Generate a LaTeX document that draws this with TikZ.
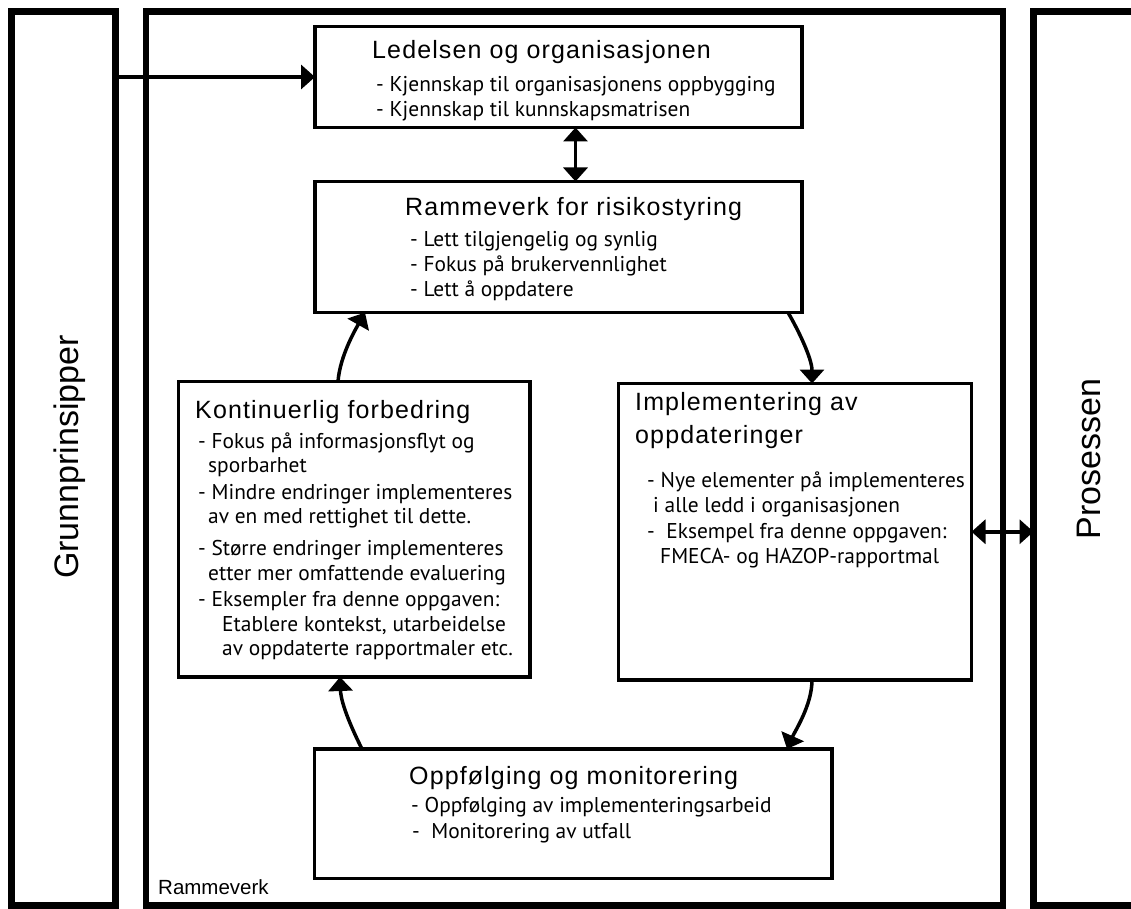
\documentclass[tikz,border=0pt]{standalone}
\usepackage{fontspec}
\setmainfont{Liberation Sans}
\newfontfamily\headfont[LetterSpace=4.5]{Liberation Sans}
\newfontfamily\bodyfont{PT Sans}
\usetikzlibrary{arrows.meta,calc}

\tikzset{
  boxframe/.style={draw, line width=6.5pt, inner sep=0pt, outer sep=0pt, anchor=north west},
  innerbox/.style={draw, line width=3.5pt, inner sep=0pt, outer sep=0pt, anchor=north west},
  titletext/.style={anchor=base west, inner sep=0pt, font=\headfont\fontsize{25}{29}\selectfont},
  itemtext/.style={anchor=base west, inner sep=0pt, font=\bodyfont\fontsize{21.4}{25}\selectfont},
  sidetext/.style={anchor=base, rotate=90, inner sep=0pt, font=\fontsize{34}{40}\selectfont},
  onearrow/.style={line width=3.5pt, -{Triangle[length=14pt,width=24pt]}},
  twoarrow/.style={line width=3.5pt, {Triangle[length=14pt,width=24pt]}-{Triangle[length=14pt,width=24pt]}},
}

\begin{document}
\begin{tikzpicture}[x=1pt,y=-1pt]
\useasboundingbox (0,0) rectangle (1131,909);
\fill[white] (0,0) rectangle (1131,909);
\clip (0,0) rectangle (1131,909);

% outer frames
\node[boxframe, minimum width=104pt, minimum height=894pt] (gp) at (11.5,11.5) {};
\node[boxframe, minimum width=857pt, minimum height=894pt] (rv) at (146,11.5) {};
\node[boxframe, minimum width=200pt, minimum height=894pt] (pr) at (1033.5,11.5) {};

\node[sidetext] (gpl) at (78,457) {Grunnprinsipper};
\node[sidetext] (prl) at (1100,459) {Prosessen};
\node[anchor=base west, inner sep=0pt, font=\fontsize{20.5}{24}\selectfont] (rvl) at (158,894) {Rammeverk};

% inner boxes
\node[innerbox, minimum width=487pt, minimum height=101pt] (led) at (315,26.5) {};
\node[innerbox, minimum width=487pt, minimum height=131pt] (ram) at (315,181.5) {};
\node[innerbox, minimum width=351.5pt, minimum height=295.5pt] (kont) at (178.5,381.5) {};
\node[innerbox, minimum width=353pt, minimum height=296.5pt] (impl) at (618.5,383.5) {};
\node[innerbox, minimum width=517.5pt, minimum height=129.5pt] (opp) at (314.5,749) {};

% Ledelsen og organisasjonen
\node[titletext] (ledt) at (372,59) {Ledelsen og organisasjonen};
\node[itemtext] (led1) at (376,92) {- Kjennskap til organisasjonens oppbygging};
\node[itemtext] (led2) at (376,117) {- Kjennskap til kunnskapsmatrisen};

% Rammeverk for risikostyring
\node[titletext] (ramt) at (405,215) {Rammeverk for risikostyring};
\node[itemtext] (ram1) at (410,246) {- Lett tilgjengelig og synlig};
\node[itemtext] (ram2) at (410,271) {- Fokus på brukervennlighet};
\node[itemtext] (ram3) at (410,296) {- Lett å oppdatere};

% Kontinuerlig forbedring
\node[titletext] (kontt) at (195,418) {Kontinuerlig forbedring};
\node[itemtext] (kont1) at (198,448) {- Fokus på informasjonsflyt og};
\node[itemtext] (kont2) at (208,472) {sporbarhet};
\node[itemtext] (kont3) at (198,499) {- Mindre endringer implementeres};
\node[itemtext] (kont4) at (208,523) {av en med rettighet til dette.};
\node[itemtext] (kont5) at (198,555) {- Større endringer implementeres};
\node[itemtext] (kont6) at (208,580) {etter mer omfattende evaluering};
\node[itemtext] (kont7) at (198,606) {- Eksempler fra denne oppgaven:};
\node[itemtext] (kont8) at (222,631) {Etablere kontekst, utarbeidelse};
\node[itemtext] (kont9) at (222,655) {av oppdaterte rapportmaler etc.};

% Implementering av oppdateringer
\node[titletext] (implt1) at (635,410) {Implementering av};
\node[titletext] (implt2) at (635,443) {oppdateringer};
\node[itemtext] (impl1) at (647,487) {- Nye elementer på implementeres};
\node[itemtext] (impl2) at (653,512) {i alle ledd i organisasjonen};
\node[itemtext] (impl3) at (647,538) {-~ Eksempel fra denne oppgaven:};
\node[itemtext] (impl4) at (660,563) {FMECA- og HAZOP-rapportmal};

% Oppfølging og monitorering
\node[titletext] (oppt) at (409,784) {Oppfølging og monitorering};
\node[itemtext] (opp1) at (411,812) {- Oppfølging av implementeringsarbeid};
\node[itemtext] (opp2) at (412,838) {-~ Monitorering av utfall};

% connectors
\draw[onearrow] (gp.east |- led.west) -- (led.west);
\draw[twoarrow] ([xshift=17pt]led.south) -- ([xshift=17pt]ram.north);
\draw[twoarrow] (impl.east) -- (impl.east -| pr.west);

\draw[onearrow] ($(kont.north west)+(159.5,0)$) .. controls +(2,-26) and +(-9,16) .. ($(ram.south west)+(50,0)$);
\draw[onearrow] ($(ram.south west)+(473,0)$) .. controls +(10,17) and +(0,-25) .. ($(impl.north west)+(193.5,0)$);
\draw[onearrow] ($(impl.south west)+(193.5,0)$) .. controls +(0,25) and +(8,-18) .. ($(opp.north west)+(472.5,0)$);
\draw[onearrow] ($(opp.north west)+(47.5,0)$) .. controls +(-10,-20) and +(1,27) .. ($(kont.south west)+(161.5,0)$);
\end{tikzpicture}
\end{document}
